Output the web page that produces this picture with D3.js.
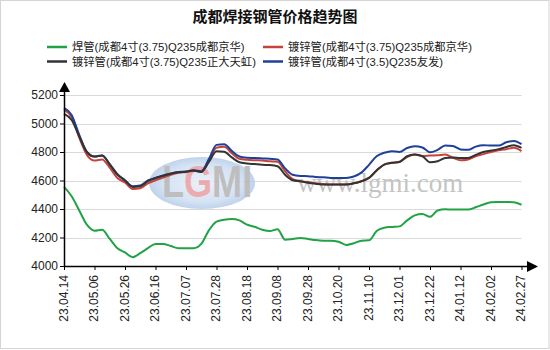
<!DOCTYPE html>
<html>
<head>
<meta charset="utf-8">
<script src="https://cdn.jsdelivr.net/npm/d3@7"></script>
<style>
  html, body { margin: 0; padding: 0; background: #fff; }
  svg { display: block; }
  text { font-family: Arial, "Liberation Sans", "Noto Sans CJK SC", sans-serif; }
</style>
</head>
<body>
<svg id="chart" width="550" height="350"></svg>
<script>
// Tick labels along the x axis (one every 4 samples)
const tickLabels = ["23.04.14","23.05.06","23.05.26","23.06.16","23.07.07","23.07.28","23.08.18","23.09.08",
                    "23.09.28","23.10.20","23.11.10","23.12.01","23.12.22","24.01.12","24.02.02","24.02.27"];
const yTicks = [4000, 4200, 4400, 4600, 4800, 5000, 5200];

const seriesNames = [
  "焊管(成都4寸(3.75)Q235成都京华)",
  "镀锌管(成都4寸(3.75)Q235成都京华)",
  "镀锌管(成都4寸(3.75)Q235正大天虹)",
  "镀锌管(成都4寸(3.5)Q235友发)"
];
const seriesColors = ["#21a345", "#c8423c", "#333333", "#1f4099"];

// Price series (元/吨), 61 samples
const weldedJinghua = [4555,4490,4390,4290,4248,4255,4190,4125,4095,4062,4090,4125,4155,4155,4140,4125,
  4125,4125,4155,4250,4312,4325,4330,4320,4290,4275,4255,4245,4258,4185,4190,4197,4190,4182,4178,4178,
  4170,4148,4160,4178,4180,4245,4268,4274,4278,4320,4355,4365,4345,4390,4398,4396,4396,4396,4412,4432,
  4448,4450,4450,4448,4430];
const galvJinghua = [5098,5045,4900,4780,4740,4748,4690,4618,4586,4540,4545,4580,4602,4620,4640,4655,
  4660,4668,4662,4740,4830,4836,4792,4752,4745,4742,4740,4735,4732,4665,4610,4595,4590,4580,4575,4572,
  4572,4572,4580,4595,4618,4670,4712,4724,4732,4765,4782,4772,4775,4778,4782,4760,4742,4748,4770,4785,
  4800,4812,4820,4829,4806];
const galvZhengda = [5068,5025,4910,4800,4768,4776,4712,4642,4600,4555,4560,4595,4618,4633,4648,4658,
  4662,4670,4660,4730,4806,4802,4762,4728,4720,4715,4710,4708,4700,4640,4602,4595,4585,4578,4572,4572,
  4572,4572,4580,4595,4618,4670,4712,4724,4730,4770,4782,4770,4728,4735,4758,4762,4758,4758,4780,4800,
  4810,4820,4835,4848,4829];
const galvYoufa = [5110,5060,4920,4800,4768,4776,4715,4645,4602,4560,4565,4600,4618,4635,4650,4660,
  4663,4672,4665,4750,4850,4855,4808,4768,4760,4758,4755,4752,4748,4685,4640,4632,4630,4625,4622,4618,
  4618,4618,4628,4655,4710,4770,4795,4806,4800,4828,4840,4832,4798,4815,4845,4842,4818,4815,4838,4848,
  4845,4845,4868,4878,4855];

const seriesData = [weldedJinghua, galvJinghua, galvZhengda, galvYoufa];
const drawOrder = [0, 1, 3, 2];

const svg = d3.select("#chart");
const W = 550, H = 350;

// outer frame
svg.append("rect").attr("x", 0.5).attr("y", 0.5).attr("width", W - 1.5).attr("height", H - 2)
  .attr("fill", "#fff").attr("stroke", "#d4d4d4");

const nPts = galvYoufa.length;
const x = d3.scaleLinear().domain([0, nPts - 1]).range([64, 521.5]);
const y = d3.scaleLinear().domain([4000, 5200]).range([266, 95]);
const step = (nPts - 1) / (tickLabels.length - 1);

// title
svg.append("text").attr("x", 275).attr("y", 22).attr("text-anchor", "middle")
  .style("font-family", "'Noto Sans CJK SC', sans-serif")
  .attr("font-size", 15).attr("font-weight", "bold").attr("fill", "#111")
  .text("成都焊接钢管价格趋势图");

// legend (2 x 2)
const legendPos = [[47, 47], [263, 47], [47, 61.5], [263, 61.5]];
seriesNames.forEach((name, i) => {
  const [lx, ly] = legendPos[i];
  const g = svg.append("g").attr("transform", `translate(${lx},${ly})`);
  g.append("line").attr("x1", 0).attr("x2", 20).attr("y1", 0).attr("y2", 0)
    .attr("stroke", seriesColors[i]).attr("stroke-width", 2.5);
  g.append("text").attr("x", 25).attr("y", 0).attr("dy", "0.36em")
    .attr("font-size", 11.3).attr("fill", "#222").text(name);
});

// gridlines
svg.append("g").selectAll("line").data(yTicks.filter(v => v > 4000)).join("line")
  .attr("x1", x(0)).attr("x2", x(nPts - 1))
  .attr("y1", d => Math.round(y(d)) + 0.5).attr("y2", d => Math.round(y(d)) + 0.5)
  .attr("stroke", "#d9d9d9").attr("stroke-width", 1);

// watermark: logo
const defs = svg.append("defs");
const rg = defs.append("radialGradient").attr("id", "wmGrad");
rg.append("stop").attr("offset", "0%").attr("stop-color", "#eaf0f9");
rg.append("stop").attr("offset", "70%").attr("stop-color", "#d3e1f3");
rg.append("stop").attr("offset", "100%").attr("stop-color", "#b9cfeb");
const wm = svg.append("g").attr("opacity", 0.9);
wm.append("ellipse").attr("cx", 202).attr("cy", 183).attr("rx", 53).attr("ry", 26)
  .attr("fill", "url(#wmGrad)");
const logo = wm.append("g").attr("transform", "translate(162,197) scale(0.82,1)")
  .append("text").attr("x", 0).attr("y", 0)
  .attr("font-size", 44).attr("font-weight", "bold");
logo.append("tspan").attr("fill", "#b7b7b7").text("L");
logo.append("tspan").attr("fill", "#eaa3a6").text("G");
logo.append("tspan").attr("fill", "#b7b7b7").text("MI");
// watermark: site address
svg.append("text").attr("x", 297).attr("y", 192)
  .style("font-family", "'Liberation Serif', 'DejaVu Serif', serif")
  .attr("font-size", 27).attr("fill", "#c4c4c4").text("www.lgmi.com");

// series lines
const line = d3.line().x((d, i) => x(i)).y(d => y(d)).curve(d3.curveMonotoneX);
drawOrder.forEach(i => {
  svg.append("path").datum(seriesData[i]).attr("d", line)
    .attr("fill", "none").attr("stroke", seriesColors[i]).attr("stroke-width", 2)
    .attr("stroke-linejoin", "round");
});

// y axis
const yAxis = svg.append("g").attr("transform", "translate(64,0)")
  .call(d3.axisLeft(y).tickValues(yTicks).tickSize(4).tickPadding(2).tickSizeOuter(0).tickFormat(d3.format("d")));
yAxis.select(".domain").remove();
yAxis.selectAll("line").attr("stroke", "#000");
yAxis.selectAll("text").attr("font-size", 12).attr("fill", "#222")
  .style("font-family", "Arial, 'Liberation Sans', sans-serif");
svg.append("line").attr("x1", 64.5).attr("x2", 64.5).attr("y1", 266).attr("y2", 90)
  .attr("stroke", "#000").attr("stroke-width", 1.5);
svg.append("path").attr("d", "M59,92 L64.5,82 L70,92 Z").attr("fill", "#000");

// x axis
const tickIdx = tickLabels.map((_, i) => i * step);
const xAxis = svg.append("g").attr("transform", "translate(0,266)")
  .call(d3.axisBottom(x).tickValues(tickIdx).tickSize(4).tickSizeOuter(0)
    .tickFormat((d, i) => tickLabels[i]));
xAxis.select(".domain").remove();
xAxis.selectAll("line").attr("stroke", "#000");
xAxis.selectAll("text").attr("font-size", 12).attr("fill", "#222")
  .style("font-family", "Arial, 'Liberation Sans', sans-serif")
  .attr("text-anchor", "end").attr("transform", "rotate(-90)")
  .attr("x", -9).attr("y", -1).attr("dy", "0.35em");
svg.append("line").attr("x1", 64).attr("x2", 530).attr("y1", 266.5).attr("y2", 266.5)
  .attr("stroke", "#000").attr("stroke-width", 1.5);
svg.append("path").attr("d", "M527,261 L538,266.5 L527,272 Z").attr("fill", "#000");
</script>
</body>
</html>
